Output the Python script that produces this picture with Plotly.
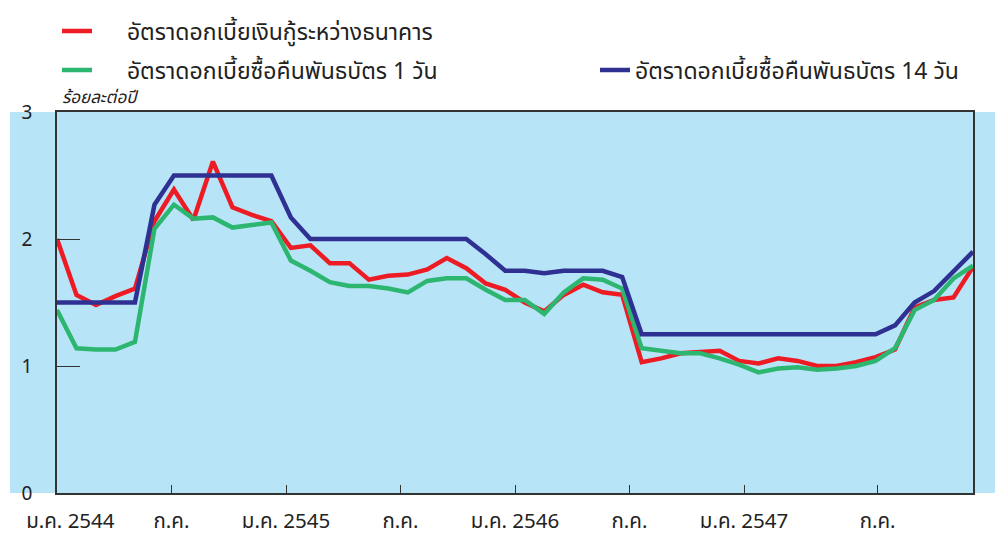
import plotly.graph_objects as go

# Monthly data, ม.ค. 2544 – ธ.ค. 2547 (per cent per annum)
months = list(range(48))

interbank = [2.00, 1.56, 1.48, 1.55, 1.61, 2.14, 2.39, 2.15, 2.61, 2.25, 2.19, 2.14,
             1.93, 1.95, 1.81, 1.81, 1.68, 1.71, 1.72, 1.76, 1.85, 1.77, 1.65, 1.60,
             1.50, 1.43, 1.56, 1.64, 1.58, 1.56, 1.03, 1.06, 1.10, 1.11, 1.12, 1.04,
             1.02, 1.06, 1.04, 1.00, 1.00, 1.03, 1.07, 1.13, 1.46, 1.52, 1.54, 1.78]

repo1d = [1.44, 1.14, 1.13, 1.13, 1.19, 2.08, 2.27, 2.16, 2.17, 2.09, 2.11, 2.13,
          1.83, 1.75, 1.66, 1.63, 1.63, 1.61, 1.58, 1.67, 1.69, 1.69, 1.60, 1.52,
          1.52, 1.41, 1.58, 1.69, 1.68, 1.61, 1.14, 1.12, 1.10, 1.10, 1.06, 1.01,
          0.95, 0.98, 0.99, 0.97, 0.98, 1.00, 1.04, 1.14, 1.44, 1.52, 1.69, 1.79]

repo14d = [1.50, 1.50, 1.50, 1.50, 1.50, 2.27, 2.50, 2.50, 2.50, 2.50, 2.50, 2.50,
           2.17, 2.00, 2.00, 2.00, 2.00, 2.00, 2.00, 2.00, 2.00, 2.00, 1.88, 1.75,
           1.75, 1.73, 1.75, 1.75, 1.75, 1.70, 1.25, 1.25, 1.25, 1.25, 1.25, 1.25,
           1.25, 1.25, 1.25, 1.25, 1.25, 1.25, 1.25, 1.32, 1.50, 1.59, 1.75, 1.90]

NB = "\u00a0"
names = [NB * 5 + "อัตราดอกเบี้ยเงินกู้ระหว่างธนาคาร",
         NB * 5 + "อัตราดอกเบี้ยซื้อคืนพันธบัตร 1 วัน",
         "อัตราดอกเบี้ยซื้อคืนพันธบัตร 14 วัน"]
colors = ["#ED1C24", "#2DB66F", "#2E3192"]

tick_months = [0, 6, 12, 18, 24, 30, 36, 43]
tick_text = [NB * 5 + "ม.ค. 2544", "ก.ค.", "ม.ค. 2545", "ก.ค.",
             "ม.ค. 2546", "ก.ค.", "ม.ค. 2547", "ก.ค."]
y_ticks = [0, 1, 2, 3]

FONT = "Tahoma, 'Noto Sans Thai', 'DejaVu Sans', sans-serif"
W, H = 995, 528  # page body has an 8 px margin

fig = go.Figure()
series = [interbank, repo1d, repo14d]
legend_ids = ["legend", "legend2", "legend3"]
for s, n, c, lg in zip(series, names, colors, legend_ids):
    fig.add_trace(go.Scatter(x=months, y=s, mode="lines", name=n, showlegend=True,
                             line=dict(color=c, width=4.5), legend=lg))

legend_common = dict(font=dict(size=23, color="#222", family=FONT),
                     bgcolor="rgba(0,0,0,0)", xanchor="left", yanchor="middle",
                     xref="container", yref="container")

fig.update_layout(
    width=W, height=H,
    margin=dict(l=49, r=30, t=104, b=43, autoexpand=False),
    paper_bgcolor="white",
    plot_bgcolor="#B8E4F8",
    font=dict(family=FONT, color="#222"),
    legend=dict(**legend_common, x=49 / W, y=1 - 23 / H),
    legend2=dict(**legend_common, x=49 / W, y=1 - 62 / H),
    legend3=dict(**legend_common, x=587 / W, y=1 - 62 / H),
    xaxis=dict(range=[0, 47], tickvals=[m * 47 / 48 for m in tick_months],
               ticktext=tick_text, tickangle=0, ticks="inside", ticklen=8,
               tickcolor="#333", tickwidth=1.2, showline=True, linecolor="#333",
               linewidth=1.5, mirror=True, showgrid=False, zeroline=False,
               ticklabeloverflow="allow",
               tickfont=dict(size=20.5, color="#222"), ticklabelstandoff=9),
    yaxis=dict(range=[0, 3], tickvals=y_ticks, ticks="inside", ticklen=23,
               tickcolor="#333", tickwidth=1.2, showline=True, linecolor="#333",
               linewidth=1.5, mirror=True, showgrid=False, zeroline=False,
               tickfont=dict(size=19, color="#222"), ticklabelstandoff=19),
    shapes=[dict(type="rect", xref="paper", yref="paper",
                 x0=-47 / 916, x1=946 / 916, y0=0, y1=1,
                 fillcolor="#B8E4F8", line=dict(width=0), layer="below")],
    annotations=[dict(text="<i>ร้อยละต่อปี</i>", xref="paper", yref="paper",
                      x=0.003, y=1.038, xanchor="left", yanchor="middle",
                      showarrow=False, font=dict(size=17, color="#222"))],
)

fig.write_html("out.html")
